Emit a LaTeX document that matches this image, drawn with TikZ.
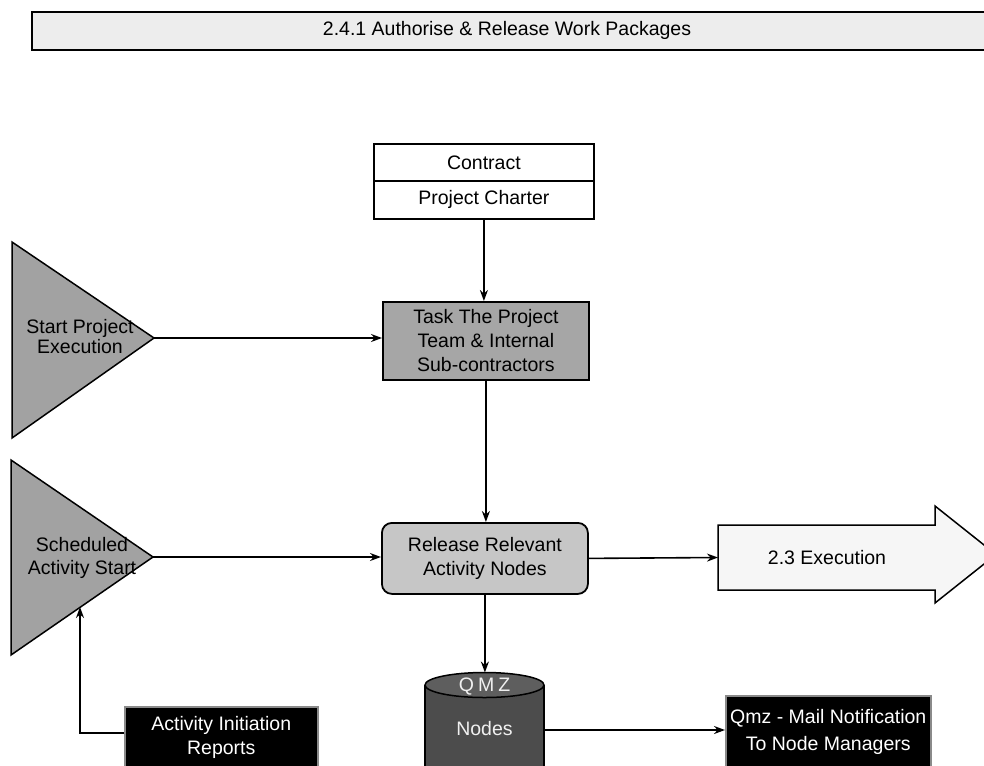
\documentclass[tikz,border=0pt]{standalone}
\usepackage{fontspec}
\setmainfont{Liberation Sans}
\usetikzlibrary{arrows.meta}
\definecolor{titlegray}{HTML}{EDEDED}
\definecolor{taskgray}{HTML}{A6A6A6}
\definecolor{trigray}{HTML}{A2A2A2}
\definecolor{relgray}{HTML}{C6C6C6}
\definecolor{execgray}{HTML}{F6F6F6}
\definecolor{cylgray}{HTML}{4C4C4C}
\definecolor{cyltop}{HTML}{5E5E5E}
\definecolor{bbedge}{HTML}{8A8A8A}
\begin{document}
\begin{tikzpicture}[x=1pt,y=-1pt,
  txt/.style={font=\fontsize{19.5}{24}\selectfont, align=center, inner sep=0pt},
  conn/.style={line width=1.6pt, -{Stealth[length=11pt,width=8pt]}},
  boxed/.style={draw=black, line width=1.8pt, txt},
  bbox/.style={fill=black, draw=bbedge, line width=1.5pt, txt, text=white},
  shapeline/.style={draw=black, line width=1.5pt}
]
\useasboundingbox (0,0) rectangle (984,765);
\fill[white] (0,0) rectangle (984,765);

% title bar
\node[draw=black, line width=2pt, fill=titlegray, minimum width=1000, minimum height=38,
      anchor=north west, inner sep=0pt] (title) at (31,11) {};
\node[txt] (titletext) at (507,30) {2.4.1 Authorise \& Release Work Packages};

% contract / charter
\node[boxed, fill=white, minimum width=220, minimum height=37, anchor=north west] (contract) at (373,143) {Contract};
\node[boxed, fill=white, minimum width=220, minimum height=38, anchor=north west] (charter) at (373,180) {Project Charter};

% task box
\node[boxed, fill=taskgray, minimum width=206, minimum height=78, anchor=north west] (task) at (382,301)
  {Task The Project\\Team \& Internal\\Sub-contractors};

% release box
\node[boxed, rounded corners=10pt, fill=relgray, minimum width=206, minimum height=71, anchor=north west] (release) at (381,522)
  {Release Relevant\\Activity Nodes};

% execution arrow
\draw[shapeline, fill=execgray] (718,525) -- (935,525) -- (935,506) -- (996,554.5) -- (935,603) -- (935,590) -- (718,590) -- cycle;
\node[txt] (exec) at (827,558) {2.3 Execution};
\coordinate (execW) at (718,557.5);

% start triangle
\draw[shapeline, fill=trigray] (12,242) -- (154,338) -- (12,438) -- cycle;
\coordinate (spA) at (154,338);
\node[txt, font=\fontsize{19.5}{20}\selectfont] (sp) at (80,337) {Start Project\\Execution};

% scheduled triangle
\draw[shapeline, fill=trigray] (11,460) -- (153,557) -- (11,655) -- cycle;
\coordinate (saA) at (153,557);
\coordinate (saB) at (80,607);
\node[txt, font=\fontsize{19.5}{23}\selectfont] (sa) at (82,558) {Scheduled\\Activity Start};

% cylinder
\fill[cylgray] (425,685) rectangle (544,775);
\draw[shapeline] (425,685) -- (425,775);
\draw[shapeline] (544,685) -- (544,775);
\draw[shapeline, fill=cyltop] (484.5,685) ellipse [x radius=59.5, y radius=12.5];
\coordinate (cylT) at (484.5,672.5);
\coordinate (cylE) at (544,730);
\node[txt, text=white!88!gray] (qmz) at (484.5,687) {Q\kern4pt M\kern4pt Z};
\node[txt, text=white!88!gray] (cylnodes) at (484.5,729) {Nodes};

% black boxes
\node[bbox, minimum width=205, minimum height=72, anchor=north west, font=\fontsize{19.5}{27}\selectfont] (mail) at (725,695)
  {Qmz - Mail Notification\\To Node Managers};
\node[bbox, minimum width=193, minimum height=62, anchor=north west] (air) at (124,706)
  {Activity Initiation\\Reports};
\fill[black] (air.south west) rectangle ([xshift=-0.75pt]air.south east |- 0,775);
\draw[bbedge, line width=1.5pt] (air.south west) -- (124,775);
\draw[bbedge, line width=1.5pt] (air.south east) -- (air.south east |- 0,775);

% connectors
\draw[conn] (charter.south) -- (charter.south |- task.north);
\draw[conn] (spA) -- (spA -| task.west);
\draw[conn] (task.south) -- (task.south |- release.north);
\draw[conn] (saA) -- (saA -| release.west);
\draw[conn] (release.east) -- (execW);
\draw[conn] (release.south) -- (release.south |- cylT);
\draw[conn] (cylE) -- (cylE -| mail.west);
\draw[conn] ([yshift=5pt]air.west) -| (saB);
\end{tikzpicture}
\end{document}
